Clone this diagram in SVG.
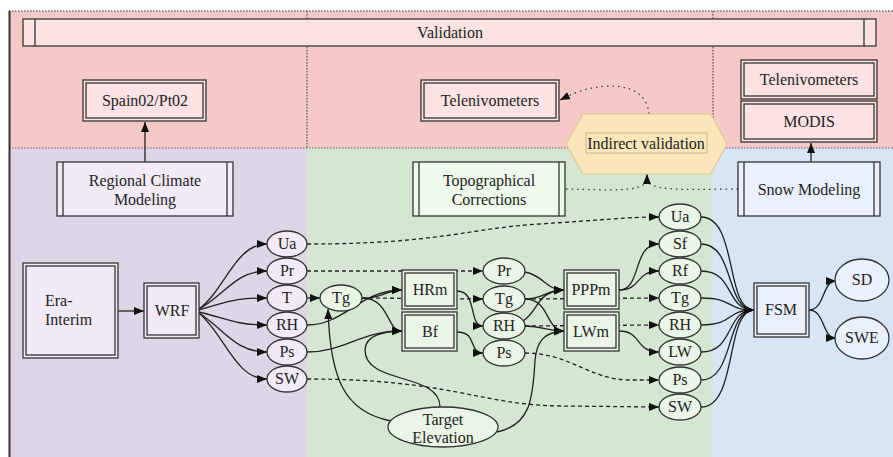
<svg xmlns="http://www.w3.org/2000/svg" width="893" height="457" viewBox="0 0 893 457">
<defs>
<marker id="ah" markerUnits="userSpaceOnUse" markerWidth="11" markerHeight="8" refX="10" refY="4" orient="auto">
<path d="M0,0 L10,4 L0,8 z" fill="#111"/>
</marker>
<style>
.b{stroke:#333;stroke-width:1.3}
.e{stroke:#333;stroke-width:1.3}
.s{fill:none;stroke:#222;stroke-width:1.3;marker-end:url(#ah)}
.d{fill:none;stroke:#222;stroke-width:1.3;stroke-dasharray:4,3;marker-end:url(#ah)}
.o{fill:none;stroke:#333;stroke-width:1.3;stroke-dasharray:1.5,4}
.pk{fill:#fce2e2}
.pu{fill:#f3eaf8}
.gr{fill:#eaf5e7}
.bl{fill:#ebf1fc}
</style>
</defs>
<rect width="893" height="457" fill="#fff"/>
<g id="bands">
<rect x="9" y="11" width="884" height="137" fill="#f5c9c7"/>
<rect x="9" y="148" width="298" height="309" fill="#ded5e6"/>
<rect x="307" y="148" width="406" height="309" fill="#d5e6d3"/>
<rect x="713" y="148" width="180" height="309" fill="#d7e5f7"/>
<line x1="9" y1="11" x2="893" y2="11" stroke="#333" stroke-width="1.2" stroke-dasharray="1.5,1.5"/>
<line x1="9" y1="148" x2="893" y2="148" stroke="#666" stroke-width="1" stroke-dasharray="1.5,1.5"/>
<line x1="307" y1="11" x2="307" y2="148" stroke="#333" stroke-width="1" stroke-dasharray="1.5,1.5"/>
<line x1="713" y1="11" x2="713" y2="148" stroke="#333" stroke-width="1" stroke-dasharray="1.5,1.5"/>
<line x1="9.5" y1="11" x2="9.5" y2="457" stroke="#333" stroke-width="2"/>
</g>
<g id="connectors">
<path class="s" d="M145,162 L145,122"/>
<path class="s" d="M811,162 L811,143"/>
<path class="o" d="M649,114 C646,78 595,82 566,97" />
<path class="s" d="M568,96 L560,100" />
<path class="o" d="M566,189 C610,190 640,192 646,182"/>
<path class="o" d="M738,189 C700,189 655,192 648,182"/>
<path class="s" d="M647,184 L647,174"/>
<path class="s" d="M118,311 L144,311"/>
<path class="s" d="M199,309 C225,290 235,244 267,244"/>
<path class="s" d="M199,309 C225,295 235,271 267,271"/>
<path class="s" d="M199,310 C225,302 235,298 267,298"/>
<path class="s" d="M199,312 C225,318 235,325 267,325"/>
<path class="s" d="M199,313 C225,330 235,352 267,352"/>
<path class="s" d="M199,313 C225,335 235,379 267,379"/>
<path class="s" d="M307,298 L320,298"/>
<path class="d" d="M362,298 L483,299"/>
<path class="s" d="M362,298 C385,298 385,290 402,290"/>
<path class="s" d="M362,298 C390,298 386,331 402,331"/>
<path class="s" d="M307,325 C345,325 360,290 402,290"/>
<path class="s" d="M307,352 C345,352 360,331 402,331"/>
<path class="d" d="M307,244 C440,244 470,228 540,224 C600,220 630,217 659,217"/>
<path class="d" d="M307,271 L483,271"/>
<path class="d" d="M307,379 C450,379 480,405 560,406 L659,407"/>
<path class="s" d="M391,421 C345,412 330,380 328,309"/>
<path class="s" d="M440,407 C440,372 365,385 365,350 C365,335 385,331 402,331"/>
<path class="s" d="M497,432 C530,425 533,400 535,360 C537,340 545,332 564,331"/>
<path class="s" d="M457,291 C478,291 468,326 483,326"/>
<path class="s" d="M457,332 C478,332 468,353 483,353"/>
<path class="s" d="M525,272 C545,276 545,290 564,290"/>
<path class="s" d="M525,299 C545,299 545,290 564,290"/>
<path class="s" d="M523,321 C540,310 535,292 564,290"/>
<path class="s" d="M525,299 C550,299 545,330 564,331"/>
<path class="s" d="M525,326 C545,326 545,331 564,331"/>
<path class="d" d="M525,299 L659,298"/>
<path class="d" d="M525,326 L659,325"/>
<path class="d" d="M525,353 C570,353 590,380 630,380 L659,380"/>
<path class="s" d="M619,290 C642,290 632,244 659,244"/>
<path class="s" d="M619,290 C642,290 635,271 659,271"/>
<path class="s" d="M619,331 C642,331 635,352 659,352"/>
<path class="s" d="M701,217 C738,217 725,310 754,310"/>
<path class="s" d="M701,244 C735,244 725,310 754,310"/>
<path class="s" d="M701,271 C735,271 725,310 754,310"/>
<path class="s" d="M701,298 C735,298 725,310 754,310"/>
<path class="s" d="M701,325 C735,325 725,310 754,310"/>
<path class="s" d="M701,352 C735,352 725,310 754,310"/>
<path class="s" d="M701,380 C735,380 725,310 754,310"/>
<path class="s" d="M701,407 C738,407 725,310 754,310"/>
<path class="s" d="M809,310 C825,310 822,281 836,281"/>
<path class="s" d="M809,310 C825,310 822,338 836,338"/>
</g>
<g font-family="Liberation Serif, Times New Roman, serif" font-size="16" fill="#222" text-anchor="middle">
<g id="validation">
<rect class="b" x="23" y="19" width="853" height="27" fill="#fce3e3"/>
<line class="b" x1="35" y1="19" x2="35" y2="46"/>
<line class="b" x1="864" y1="19" x2="864" y2="46"/>
<text x="450" y="38">Validation</text>
</g>
<g id="spain02">
<rect class="b pk" x="83" y="80" width="123" height="41"/>
<rect class="b" x="86" y="83" width="117" height="35" fill="none"/>
<text x="145" y="106">Spain02/Pt02</text>
</g>
<g id="telenivometers1">
<rect class="b pk" x="421" y="80" width="138" height="41"/>
<rect class="b" x="424" y="83" width="132" height="35" fill="none"/>
<text x="490" y="106">Telenivometers</text>
</g>
<g id="telenivometers2">
<rect class="b pk" x="741" y="60" width="136" height="39"/>
<rect class="b" x="744" y="63" width="130" height="33" fill="none"/>
<text x="809" y="85">Telenivometers</text>
</g>
<g id="modis">
<rect class="b pk" x="741" y="101" width="136" height="41"/>
<rect class="b" x="744" y="104" width="130" height="35" fill="none"/>
<text x="809" y="127">MODIS</text>
</g>
<g id="indirect">
<polygon points="566,144 583,114 711,114 727,144 711,174 583,174" fill="#fbe6b9" stroke="#e2c68e" stroke-width="1.2"/>
<rect x="586" y="133" width="121" height="20" fill="none" stroke="#b5a890" stroke-width="0.8"/>
<text x="646" y="149">Indirect validation</text>
</g>
<g id="rcm">
<rect class="b pu" x="57" y="162" width="176" height="54"/>
<line class="b" x1="63" y1="162" x2="63" y2="216"/>
<line class="b" x1="227" y1="162" x2="227" y2="216"/>
<text x="145" y="186">Regional Climate</text>
<text x="145" y="205">Modeling</text>
</g>
<g id="topo">
<rect class="b" x="413" y="162" width="152" height="54" fill="#eefbec"/>
<line class="b" x1="419" y1="162" x2="419" y2="216"/>
<line class="b" x1="559" y1="162" x2="559" y2="216"/>
<text x="489" y="186">Topographical</text>
<text x="489" y="205">Corrections</text>
</g>
<g id="snow">
<rect class="b bl" x="738" y="162" width="142" height="54"/>
<line class="b" x1="744" y1="162" x2="744" y2="216"/>
<line class="b" x1="874" y1="162" x2="874" y2="216"/>
<text x="809" y="195">Snow Modeling</text>
</g>
<g id="era">
<rect class="b pu" x="23" y="263" width="95" height="95"/>
<rect class="b" x="26" y="266" width="89" height="89" fill="none"/>
<text x="45" y="306" text-anchor="start">Era-</text>
<text x="45" y="325" text-anchor="start">Interim</text>
</g>
<g id="wrf">
<rect class="b pu" x="144" y="283" width="55" height="55"/>
<rect class="b" x="147" y="286" width="49" height="49" fill="none"/>
<text x="172" y="316">WRF</text>
</g>
<g id="left-vars">
<ellipse class="e pu" cx="287" cy="244" rx="20" ry="13"/><text x="287" y="249">Ua</text>
<ellipse class="e pu" cx="287" cy="271" rx="20" ry="13"/><text x="287" y="276">Pr</text>
<ellipse class="e pu" cx="287" cy="298" rx="20" ry="13"/><text x="287" y="303">T</text>
<ellipse class="e pu" cx="287" cy="325" rx="20" ry="13"/><text x="287" y="330">RH</text>
<ellipse class="e pu" cx="287" cy="352" rx="20" ry="13"/><text x="287" y="357">Ps</text>
<ellipse class="e pu" cx="287" cy="379" rx="20" ry="13"/><text x="287" y="384">SW</text>
</g>
<g id="tg1">
<ellipse class="e gr" cx="341" cy="298" rx="21" ry="13"/><text x="341" y="303">Tg</text>
</g>
<g id="hrm">
<rect class="b gr" x="402" y="270" width="55" height="39"/>
<rect class="b" x="405" y="273" width="49" height="33" fill="none"/>
<text x="430" y="295">HRm</text>
</g>
<g id="bf">
<rect class="b gr" x="402" y="312" width="55" height="39"/>
<rect class="b" x="405" y="315" width="49" height="33" fill="none"/>
<text x="430" y="337">Bf</text>
</g>
<g id="mid-vars">
<ellipse class="e gr" cx="504" cy="271" rx="21" ry="13"/><text x="504" y="276">Pr</text>
<ellipse class="e gr" cx="504" cy="299" rx="21" ry="13"/><text x="504" y="304">Tg</text>
<ellipse class="e gr" cx="504" cy="326" rx="21" ry="13"/><text x="504" y="331">RH</text>
<ellipse class="e gr" cx="504" cy="353" rx="21" ry="13"/><text x="504" y="358">Ps</text>
</g>
<g id="pppm">
<rect class="b gr" x="564" y="270" width="55" height="39"/>
<rect class="b" x="567" y="273" width="49" height="33" fill="none"/>
<text x="591" y="295">PPPm</text>
</g>
<g id="lwm">
<rect class="b gr" x="564" y="312" width="55" height="39"/>
<rect class="b" x="567" y="315" width="49" height="33" fill="none"/>
<text x="591" y="337">LWm</text>
</g>
<g id="target">
<ellipse class="e gr" cx="443" cy="427" rx="55" ry="20"/>
<text x="443" y="425">Target</text>
<text x="443" y="443">Elevation</text>
</g>
<g id="right-vars">
<ellipse class="e gr" cx="680" cy="217" rx="21" ry="13"/><text x="680" y="222">Ua</text>
<ellipse class="e gr" cx="680" cy="244" rx="21" ry="13"/><text x="680" y="249">Sf</text>
<ellipse class="e gr" cx="680" cy="271" rx="21" ry="13"/><text x="680" y="276">Rf</text>
<ellipse class="e gr" cx="680" cy="298" rx="21" ry="13"/><text x="680" y="303">Tg</text>
<ellipse class="e gr" cx="680" cy="325" rx="21" ry="13"/><text x="680" y="330">RH</text>
<ellipse class="e gr" cx="680" cy="352" rx="21" ry="13"/><text x="680" y="357">LW</text>
<ellipse class="e gr" cx="680" cy="380" rx="21" ry="13"/><text x="680" y="385">Ps</text>
<ellipse class="e gr" cx="680" cy="407" rx="21" ry="13"/><text x="680" y="412">SW</text>
</g>
<g id="fsm">
<rect class="b bl" x="754" y="283" width="55" height="54"/>
<rect class="b" x="757" y="286" width="49" height="48" fill="none"/>
<text x="781" y="315">FSM</text>
</g>
<g id="sd">
<ellipse class="e bl" cx="862" cy="280" rx="27" ry="21"/><text x="862" y="285">SD</text>
</g>
<g id="swe">
<ellipse class="e bl" cx="862" cy="338" rx="27" ry="21"/><text x="862" y="343">SWE</text>
</g>
</g>
</svg>
